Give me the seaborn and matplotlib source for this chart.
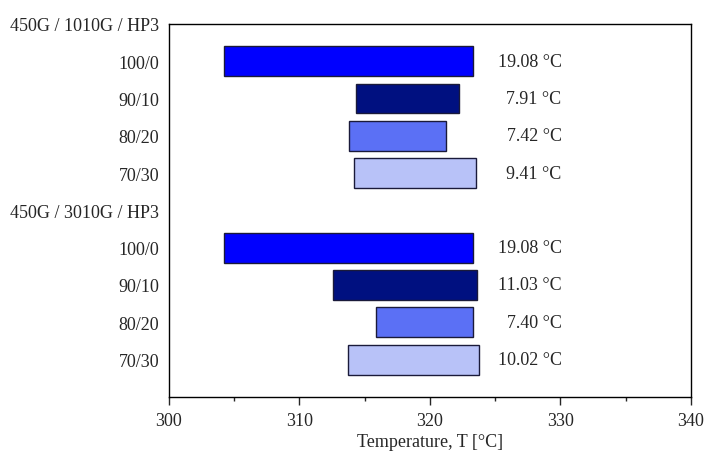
import numpy as np
import pandas as pd
import matplotlib
matplotlib.use("Agg")
import matplotlib.pyplot as plt
import seaborn as sns
from matplotlib.ticker import MultipleLocator

# data
systems = ['450G / 1010G / HP3', '450G / 3010G / HP3']
blends = ['100/0', '90/10', '80/20', '70/30']
start_1010 = [304.20, 314.35, 313.82, 314.15]
range_1010 = [19.08, 7.91, 7.42, 9.41]
start_3010 = [304.20, 312.55, 315.90, 313.75]
range_3010 = [19.08, 11.03, 7.40, 10.02]

colors = ['#0000ff', '#001080', '#5b70f5', '#b8c2f8']

rows = []
for g, (starts, ranges) in enumerate([(start_1010, range_1010), (start_3010, range_3010)]):
    for i, b in enumerate(blends):
        rows.append({'system': systems[g], 'blend': b, 'pos': g * 5 + i + 1,
                     'start': starts[i], 'range': ranges[i]})
df = pd.DataFrame(rows)

sns.set_style('white')
plt.rcParams['font.family'] = ['Liberation Serif', 'DejaVu Serif']
fs = 13

fig, ax = plt.subplots(figsize=(7.07, 4.60), dpi=100)
sns.barplot(data=df, x='range', y='pos', hue='blend', hue_order=blends, palette=colors,
            orient='h', native_scale=True, dodge=False, width=0.8, saturation=1,
            edgecolor='#1a1a3a', linewidth=1.0, legend=False, ax=ax)

# move the bars so each starts at its onset temperature
start_by_pos = dict(zip(df['pos'], df['start']))
for p in ax.patches:
    yc = int(round(p.get_y() + p.get_height() / 2))
    if yc in start_by_pos:
        p.set_x(start_by_pos[yc])

for _, r in df.iterrows():
    ax.text(330.1, r['pos'], f"{r['range']:.2f} °C", ha='right', va='center', fontsize=fs)

ax.set_xlim(300, 340)
ax.set_ylim(10, 0)
ax.xaxis.set_major_locator(MultipleLocator(10))
ax.xaxis.set_minor_locator(MultipleLocator(5))
ax.tick_params(axis='x', which='major', bottom=True, direction='out', length=6, width=1, labelsize=fs, pad=5)
ax.tick_params(axis='x', which='minor', bottom=True, direction='out', length=3, width=1)
ax.tick_params(axis='y', length=0, labelsize=fs, pad=7)

ticks = list(range(10))
labels = [systems[0]] + blends + [systems[1]] + blends
ax.set_yticks(ticks)
ax.set_yticklabels(labels)
ax.set_ylabel('')
ax.set_xlabel('Temperature, T [°C]', fontsize=fs, labelpad=3)

for s in ax.spines.values():
    s.set_visible(True)
    s.set_color('black')
    s.set_linewidth(1.0)

fig.subplots_adjust(left=0.239, right=0.977, top=0.946, bottom=0.135)
fig.savefig('out.png', dpi=100)
